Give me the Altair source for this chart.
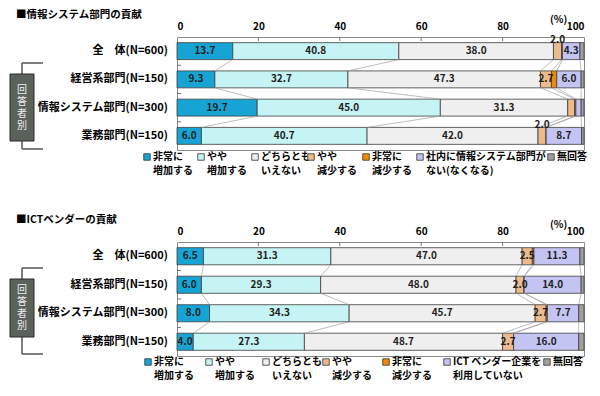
import altair as alt
import pandas as pd

FONT = "Noto Sans CJK JP"

rows = ["全　体(N=600)", "経営系部門(N=150)", "情報システム部門(N=300)", "業務部門(N=150)"]
keys = ["s0", "s1", "s2", "s3", "s4", "s5", "s6"]
colors = ["#17A4D4", "#C6F3F3", "#EFEFEF", "#EDBA8C", "#F08A00", "#C4C4F2", "#A0A0A0"]

# values per series (rows order as above)
top_values = [
    [13.7, 9.3, 19.7, 6.0],   # 非常に増加する
    [40.8, 32.7, 45.0, 40.7], # やや増加する
    [38.0, 47.3, 31.3, 42.0], # どちらともいえない
    [2.0, 2.7, 1.7, 2.0],     # やや減少する
    [0.2, 1.3, 0.3, 0.0],     # 非常に減少する
    [4.3, 6.0, 1.3, 8.7],     # 社内に情報システム部門がない
    [1.0, 0.7, 0.7, 0.6],     # 無回答
]
bottom_values = [
    [6.5, 6.0, 8.0, 4.0],
    [31.3, 29.3, 34.3, 27.3],
    [47.0, 48.0, 45.7, 48.7],
    [2.5, 2.0, 2.7, 2.7],
    [0.4, 0.0, 0.3, 0.0],
    [11.3, 14.0, 7.7, 16.0],
    [1.0, 0.7, 1.3, 1.3],
]
top_above = [(0, 3), (3, 3)]
bottom_above = []

top_legend = [["非常に", "増加する"], ["やや", "増加する"], ["どちらとも", "いえない"],
              ["やや", "減少する"], ["非常に", "減少する"],
              ["社内に情報システム部門が", "ない(なくなる)"], ["無回答"]]
bottom_legend = [["非常に", "増加する"], ["やや", "増加する"], ["どちらとも", "いえない"],
                 ["やや", "減少する"], ["非常に", "減少する"],
                 ["ICT ベンダー企業を", "利用していない"], ["無回答"]]
x_ticks = [0, 20, 40, 60, 80, 100]
box_label = ["回", "答", "者", "別"]

# layout constants (pixels relative to plot origin)
W = 407
BH = 0.3
top_legend_x = [-30, 24, 78, 134, 189, 243, 374]
bottom_legend_x = [-29, 32, 89, 149, 209, 270, 370]

xs = alt.Scale(domain=[0, 100], nice=False, zero=False)
ys = alt.Scale(domain=[0, 4], nice=False, zero=False, reverse=True)
cs = alt.Scale(domain=keys, range=colors)

one = pd.DataFrame({"a": [0]})


def panel(title, values, above, legend_lines, legend_x, box_y, H, legend_y):
    recs = []
    ends = []
    for r, row in enumerate(rows):
        cum = 0.0
        e = []
        for k in range(len(keys)):
            v = values[k][r]
            recs.append(dict(key=keys[k], x0=cum, x1=cum + v, xm=cum + v / 2,
                             yc=r + 0.5, y0=r + 0.5 - BH, y1=r + 0.5 + BH,
                             lab=(f"{v:.1f}" if v >= 2 else ""),
                             above=((r, k) in above)))
            cum += v
            e.append(cum)
        ends.append(e)
    df = pd.DataFrame(recs)
    rdf = pd.DataFrame({"row": rows, "yc": [r + 0.5 for r in range(len(rows))]})

    con = []
    for k in range(len(keys) - 1):
        for r in range(len(rows) - 1):
            con.append(dict(x=ends[r][k], x2=ends[r + 1][k], y=r + 0.5 + BH, y2=r + 1.5 - BH))
    cdf = pd.DataFrame(con)

    xaxis = alt.Axis(orient="top", values=x_ticks, ticks=False, domain=False, grid=False,
                     title=None, labelFontSize=10, labelFontWeight="bold", labelColor="#000",
                     labelPadding=6)

    bars = alt.Chart(df).mark_rect(stroke="#3c3c3c", strokeWidth=0.8).encode(
        x=alt.X("x0:Q", scale=xs, axis=xaxis), x2="x1:Q",
        y=alt.Y("y0:Q", scale=ys, axis=None), y2="y1:Q",
        color=alt.Color("key:N", scale=cs, legend=None))
    conn = alt.Chart(cdf).mark_rule(color="#a0a0a0", strokeWidth=0.7).encode(
        x="x:Q", x2="x2:Q", y="y:Q", y2="y2:Q")
    lab_in = alt.Chart(df).transform_filter("datum.lab != '' && !datum.above").mark_text(
        fontSize=10, fontWeight="bold", color="#1e1e1e").encode(x="xm:Q", y="yc:Q", text="lab:N")
    lab_up = alt.Chart(df).transform_filter("datum.lab != '' && datum.above").mark_text(
        fontSize=10, fontWeight="bold", color="#1e1e1e", dy=-11).encode(x="xm:Q", y="yc:Q", text="lab:N")
    row_lab = alt.Chart(rdf).mark_text(align="right", baseline="middle", fontSize=11,
                                       fontWeight="bold", color="#000").encode(
        x=alt.value(-9), y="yc:Q", text="row:N")
    xt = alt.Chart(pd.DataFrame({"t": x_ticks[1:-1]})).mark_rule(color="#777").encode(
        x="t:Q", y=alt.value(0), y2=alt.value(4))
    yt = alt.Chart(pd.DataFrame({"t": [1, 2, 3]})).mark_rule(color="#777").encode(
        y="t:Q", x=alt.value(0), x2=alt.value(4))

    layers = [bars, conn, lab_in, lab_up, row_lab, xt, yt]

    layers.append(alt.Chart(one).mark_text(align="left", baseline="middle", fontSize=10.5,
                                           fontWeight="bold", color="#000").encode(
        x=alt.value(-161), y=alt.value(-22), text=alt.value(title)))
    layers.append(alt.Chart(one).mark_text(align="left", baseline="middle", fontSize=10,
                                           fontWeight="bold", color="#000").encode(
        x=alt.value(373), y=alt.value(-17), text=alt.value("(%)")))
    # 回答者別 box and bracket
    layers.append(alt.Chart(one).mark_rule(color="#555", strokeWidth=1.5).encode(
        x=alt.value(-155), y=alt.value(26), y2=alt.value(112)))
    layers.append(alt.Chart(one).mark_rule(color="#555", strokeWidth=1.5).encode(
        x=alt.value(-155), x2=alt.value(-134), y=alt.value(26)))
    layers.append(alt.Chart(one).mark_rule(color="#555", strokeWidth=1.5).encode(
        x=alt.value(-155), x2=alt.value(-134), y=alt.value(112)))
    layers.append(alt.Chart(one).mark_rect(fill="#5B615B", stroke="#2a2a2a", strokeWidth=1).encode(
        x=alt.value(-167), x2=alt.value(-143), y=alt.value(box_y[0]), y2=alt.value(box_y[1])))
    lh = 12
    cy = (box_y[0] + box_y[1]) / 2 - lh * (len(box_label) - 1) / 2
    layers.append(alt.Chart(one).mark_text(align="center", baseline="middle", fontSize=10,
                                           lineHeight=lh, color="#f0f0f0").encode(
        x=alt.value(-155), y=alt.value(cy), text=alt.value(box_label)))
    # legend
    for k, (lines, lx) in enumerate(zip(legend_lines, legend_x)):
        layers.append(alt.Chart(one).mark_square(size=42, opacity=1, stroke="#333",
                                                 strokeWidth=0.8).encode(
            x=alt.value(lx), y=alt.value(legend_y), fill=alt.value(colors[k])))
        layers.append(alt.Chart(one).mark_text(align="left", baseline="middle", fontSize=10,
                                               fontWeight="bold", lineHeight=14,
                                               color="#000").encode(
            x=alt.value(lx + 6), y=alt.value(legend_y), text=alt.value(lines)))
    return alt.layer(*layers).properties(width=W, height=H)


top = panel("■情報システム部門の貢献", top_values, top_above, top_legend, top_legend_x,
            (37, 104), 113, 120)
bottom = panel("■ICTベンダーの貢献", bottom_values, bottom_above, bottom_legend, bottom_legend_x,
               (37, 95), 114, 120)

chart = alt.vconcat(top, bottom, spacing=37).properties(
    padding={"left": 1, "top": 1, "right": 0, "bottom": 0}
).configure(font=FONT).configure_view(stroke="#8a8a8a", strokeWidth=1)

chart.save("out.html", embed_options={"renderer": "svg", "actions": False})
